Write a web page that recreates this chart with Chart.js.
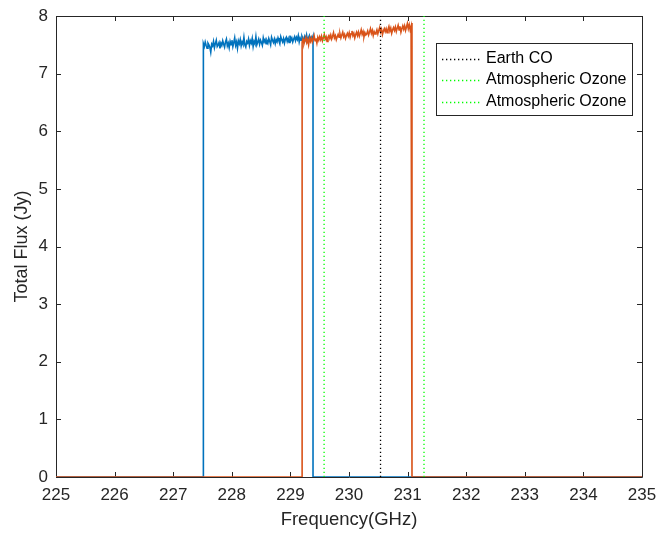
<!DOCTYPE html>
<html><head><meta charset="utf-8">
<script src="https://cdn.jsdelivr.net/npm/chart.js@4.4.0/dist/chart.umd.min.js"></script>
<style>html,body{margin:0;padding:0;background:#fff}#wrap{width:659px;height:538px}</style>
</head><body><div id="wrap"><canvas id="c" width="659" height="538"></canvas></div>
<script>
// ---- data ----
const xTicks = [225,226,227,228,229,230,231,232,233,234,235];
const yTicks = [0,1,2,3,4,5,6,7,8];
const xRange = [225, 235];
const yRange = [0, 8];

// spectral window 1 (blue): channel range and flux values (Jy)
const blueStart = 227.515, blueEnd = 229.386;
const blueFlux = [
7.52,7.47,7.55,7.49,7.44,7.53,7.50,7.46,7.37,7.51,
7.48,7.56,7.45,7.52,7.58,7.47,7.50,7.54,7.44,7.53,
7.49,7.57,7.51,7.46,7.55,7.60,7.48,7.53,7.45,7.56,
7.50,7.58,7.47,7.54,7.62,7.49,7.55,7.44,7.57,7.52,
7.59,7.48,7.55,7.51,7.63,7.50,7.46,7.56,7.53,7.60,
7.49,7.57,7.53,7.61,7.47,7.56,7.52,7.64,7.50,7.55,
7.60,7.51,7.58,7.54,7.49,7.62,7.55,7.59,7.52,7.57,
7.53,7.61,7.56,7.50,7.63,7.58,7.54,7.60,7.52,7.59,
7.55,7.62,7.57,7.52,7.64,7.59,7.55,7.61,7.53,7.60,
7.63,7.56,7.61,7.54,7.66,7.58,7.62,7.55,7.60,7.64,
7.57,7.63,7.59,7.66,7.55,7.62,7.58,7.65,7.61,7.56,
7.64,7.59,7.67,7.57,7.62,7.66,7.58,7.63,7.60,7.65
];

// spectral window 2 (orange)
const orangeStart = 229.200, orangeEnd = 231.075;
const orangeFlux = [
7.55,7.60,7.52,7.58,7.63,7.54,7.59,7.50,7.61,7.56,
7.62,7.55,7.60,7.66,7.57,7.61,7.53,7.63,7.58,7.64,
7.59,7.65,7.57,7.62,7.68,7.60,7.64,7.56,7.63,7.66,
7.61,7.67,7.60,7.65,7.71,7.62,7.66,7.59,7.64,7.68,
7.63,7.69,7.62,7.67,7.72,7.64,7.68,7.61,7.66,7.70,
7.65,7.71,7.63,7.69,7.74,7.66,7.70,7.62,7.68,7.72,
7.66,7.72,7.65,7.70,7.76,7.68,7.73,7.64,7.71,7.67,
7.69,7.74,7.67,7.72,7.78,7.70,7.75,7.66,7.73,7.69,
7.71,7.76,7.69,7.75,7.80,7.72,7.77,7.68,7.74,7.78,
7.73,7.78,7.71,7.77,7.82,7.74,7.79,7.70,7.76,7.80,
7.75,7.81,7.73,7.79,7.84,7.76,7.82,7.72,7.78,7.83,
7.77,7.83,7.75,7.81,7.87,7.78,7.85,7.76,7.82,7.88
];

// reference lines (GHz)
const earthCO = 230.538;
const ozoneLines = [229.575, 231.280];
const lineLabels = ['Earth CO', 'Atmospheric Ozone', 'Atmospheric Ozone'];

// ---- build ----
function spectrum(start, end, vals) {
  const pts = [{x: xRange[0], y: 0}, {x: start, y: 0}];
  const n = vals.length;
  vals.forEach((v, i) => pts.push({x: start + (end - start) * i / (n - 1), y: v}));
  pts.push({x: end, y: 0}, {x: xRange[1], y: 0});
  return pts;
}
function vline(x) { return [{x: x, y: yRange[0]}, {x: x, y: yRange[1]}]; }

const AX = '#262626';
const FONT = 'Liberation Sans, Arial, Helvetica, sans-serif';

const datasets = [
  {label: lineLabels[0], data: vline(earthCO), borderColor: '#000000', borderWidth: 1.3, borderDash: [1.3, 2.7], order: 0, inLegend: true},
  {label: lineLabels[1], data: vline(ozoneLines[0]), borderColor: '#00ff00', borderWidth: 1.3, borderDash: [1.3, 2.7], order: 1, inLegend: true},
  {label: lineLabels[2], data: vline(ozoneLines[1]), borderColor: '#00ff00', borderWidth: 1.3, borderDash: [1.3, 2.7], order: 2, inLegend: true},
  {label: 'spw2', data: spectrum(orangeStart, orangeEnd, orangeFlux), borderColor: '#D95319', borderWidth: 1.6, order: 3},
  {label: 'spw1', data: spectrum(blueStart, blueEnd, blueFlux), borderColor: '#0072BD', borderWidth: 1.6, order: 4}
];
datasets.forEach(d => { d.pointRadius = 0; d.fill = false; d.tension = 0; d.borderJoinStyle = 'miter'; });

const framePlugin = {
  id: 'frame',
  beforeDatasetsDraw(chart) {
    const {ctx, chartArea: a, scales: {x, y}} = chart;
    ctx.save();
    ctx.strokeStyle = AX; ctx.lineWidth = 1;
    ctx.beginPath();
    ctx.rect(Math.round(a.left) + 0.5, Math.round(a.top) + 0.5, Math.round(a.right - a.left), Math.round(a.bottom - a.top));
    const L = 5;
    xTicks.forEach(v => {
      const px = Math.round(x.getPixelForValue(v)) + 0.5;
      ctx.moveTo(px, a.bottom); ctx.lineTo(px, a.bottom - L);
      ctx.moveTo(px, a.top); ctx.lineTo(px, a.top + L);
    });
    yTicks.forEach(v => {
      const py = Math.round(y.getPixelForValue(v)) + 0.5;
      ctx.moveTo(a.left, py); ctx.lineTo(a.left + L, py);
      ctx.moveTo(a.right, py); ctx.lineTo(a.right - L, py);
    });
    ctx.stroke();
    ctx.restore();
  }
};

const legendPlugin = {
  id: 'boxLegend',
  afterDatasetsDraw(chart) {
    const {ctx} = chart;
    const bx = 436, by = 43, bw = 196, bh = 72;
    ctx.save();
    ctx.fillStyle = '#ffffff';
    ctx.fillRect(bx, by, bw, bh);
    ctx.strokeStyle = AX; ctx.lineWidth = 1;
    ctx.strokeRect(bx + 0.5, by + 0.5, bw, bh);
    const items = chart.data.datasets.filter(d => d.inLegend);
    const rowY = [58.5, 80, 101.5];
    ctx.font = '16px ' + FONT;
    ctx.textBaseline = 'middle';
    items.forEach((d, i) => {
      const yy = Math.round(rowY[i]) + 0.5;
      ctx.strokeStyle = d.borderColor; ctx.lineWidth = d.borderWidth;
      ctx.setLineDash(d.borderDash || []);
      ctx.beginPath(); ctx.moveTo(442, yy); ctx.lineTo(481, yy); ctx.stroke();
      ctx.setLineDash([]);
      ctx.fillStyle = '#000000';
      ctx.fillText(d.label, 486, rowY[i]);
    });
    ctx.restore();
  }
};

new Chart(document.getElementById('c'), {
  type: 'line',
  data: {datasets},
  options: {
    responsive: false,
    animation: false,
    devicePixelRatio: 1,
    layout: {padding: {left: 0, right: 17, top: 16, bottom: 0}},
    plugins: {legend: {display: false}, tooltip: {enabled: false}},
    scales: {
      x: {
        type: 'linear', min: xRange[0], max: xRange[1],
        afterBuildTicks: s => { s.ticks = xTicks.map(v => ({value: v})); },
        afterFit: s => { s.height = 61; s.paddingLeft = 0; s.paddingRight = 0; },
        grid: {display: false, drawTicks: false},
        border: {display: false},
        ticks: {color: AX, font: {family: FONT, size: 17}, padding: 8, maxRotation: 0, autoSkip: false},
        title: {display: true, text: 'Frequency(GHz)', color: AX, font: {family: FONT, size: 18.5}, padding: {top: 0, bottom: 7}}
      },
      y: {
        type: 'linear', min: yRange[0], max: yRange[1],
        afterBuildTicks: s => { s.ticks = yTicks.map(v => ({value: v})); },
        afterFit: s => { s.width = 56; s.paddingTop = 0; s.paddingBottom = 0; },
        grid: {display: false, drawTicks: false},
        border: {display: false},
        ticks: {color: AX, font: {family: FONT, size: 17}, padding: 8, autoSkip: false},
        title: {display: true, text: 'Total Flux (Jy)', color: AX, font: {family: FONT, size: 18}, padding: {top: 11, bottom: 0}}
      }
    }
  },
  plugins: [framePlugin, legendPlugin]
});
</script></body></html>
